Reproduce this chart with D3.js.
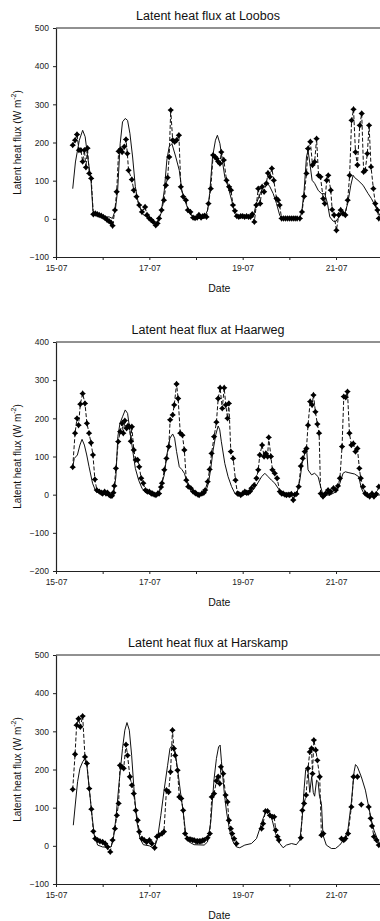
<!DOCTYPE html>
<html>
<head>
<meta charset="utf-8">
<script src="https://cdn.jsdelivr.net/npm/d3@7"></script>
<style>
  html, body { margin: 0; padding: 0; background: #fff; }
  svg { display: block; font-family: "Liberation Sans", Arial, sans-serif; }
</style>
</head>
<body>
<svg id="chart" width="380" height="921"></svg>
<script>
// Hours since 15-07 00:00 paired with latent heat flux (W m-2).
// null marks a gap in the record.

const loobosMeasured = [
  [8.6,193],[9.8,206],[10.8,221],[11.8,180],[12.8,180],[13.7,150],[14.6,180],[15.4,135],[16.2,185],[17.1,119],
  [18.1,106],[19.2,12],[20.2,14],[21.2,12],[22.2,10],[23.3,8],[24.3,5],[25.3,2],[26.3,-3],[27.3,-6],
  [28.3,-10],[29.1,-18],[30.3,23],[31.2,71],[32.2,177],[33.2,182],[34,175],[35.1,189],[36,208],[36.7,171],
  [37.3,127],[39,103],[40,75],[41.4,58],[42.8,36],[44.2,18],[45.8,31],[46.8,10],[48,1],[49,-3],
  [50,-8],[51.3,-17],[52.2,-12],[53,1],[54.3,23],[55.5,49],[56.5,88],[57.4,108],[58.2,162],[59,285],
  [60,206],[61,202],[62,206],[63.2,219],[64.2,84],[65.4,58],[66.8,49],[67.8,23],[69.1,18],[70.5,3],
  [71.5,2],[72.6,3],[73.5,10],[74.6,3],[75.5,7],[76.4,8],[77.4,5],[78.4,40],[79.6,79],[80.8,167],
  [81.8,162],[82.6,158],[83.4,150],[84.3,145],[85,175],[86.3,154],[87.7,101],[89,84],[90,75],[91,36],
  [92,21],[93,7],[94,5],[95,7],[96,7],[97,5],[98,7],[99,5],[100,5],[100.9,12],
  [102,-8],[103,36],[104,79],[105,40],[106,84],[107,71],[108.2,93],[109,120],[110,110],[111,132],
  [112,101],[113.4,53],[114.2,49],[115,36],[116,1],[117,1],[118,1],[119,1],[120,1],[121,1],
  [122,1],[123,1],[124,1],[125.4,1],[126.5,18],[127.6,59],[128.8,119],[129.6,184],[130.8,202],[131.9,141],
  [133,149],[134,210],[135,114],[136,110],[137.4,53],[138.2,40],[139.2,101],[140,114],[141.3,75],[142,24],
  [143,10],[144.2,-30],[145.4,10],[146.4,23],[147.6,14],[148.8,10],[150,49],[151,114],[152,258],[153,287],
  [154,175],[155,141],[156.2,245],[157.2,276],[158.2,123],[159,127],[160.1,171],[161,245],[162,136],[163.2,79],
  [164.2,40],[165.3,23],[166,1]
];

const loobosModel = [
  [8.6,79],[10,149],[12,206],[13.7,232],[15,215],[16.3,162],[18,101],[19,21],[20,14],[22,8],
  [24,5],[27.4,5],[29,1],[30.5,23],[31.7,75],[33,197],[34.2,254],[35.6,263],[36.8,258],[38,224],
  [39.4,162],[40.8,84],[42.5,36],[45,10],[48,1],[51,-12],[52.5,-5],[54,14],[55.7,75],[57,154],
  [58.2,189],[59.6,197],[61.6,162],[63.4,127],[64.7,75],[66.8,40],[69.3,10],[72.8,1],[76,1],[78,23],
  [79,66],[80.5,162],[82,206],[83,219],[84.3,197],[85.5,154],[86.8,110],[88.5,84],[90.3,49],[92,14],
  [93.7,3],[99,3],[101.4,5],[103,40],[105,66],[106.5,84],[108.2,97],[110,84],[111.7,66],[113.4,40],
  [115,10],[116,1],[125.5,1],[126.5,23],[127.6,75],[128.8,162],[129.6,180],[130.8,136],[131.7,101],[133,93],
  [134.8,75],[136.5,66],[138.2,66],[139.6,40],[140.8,5],[142.5,-6],[143.7,-8],[145,1],[146.8,14],[148.5,14],
  [150,40],[151.6,88],[152.8,114],[153.6,108],[155.3,101],[157.9,88],[160.5,66],[162.2,53],[163.9,36],[165.6,18],
  [167,5]
];

const haarwegMeasured = [
  [8.6,72],[9.8,161],[10.8,200],[11.6,182],[12.5,237],[13.7,265],[14.9,239],[15.9,187],[17,161],[18,136],
  [19,104],[20,40],[21,12],[22.3,8],[23.3,5],[24,3],[25,8],[25.7,3],[26.5,5],[27.4,-1],
  [28.2,-3],[28.8,-3],[29.5,5],[30,23],[30.8,69],[32,139],[33,165],[34,187],[34.6,161],[35.4,194],
  [36.3,174],[37,180],[37.7,178],[38.5,140],[39,178],[40,117],[41,91],[42,91],[42.8,73],[43.8,43],
  [44.9,30],[46,12],[47,8],[48,8],[49,3],[49.7,3],[50.5,0],[51.4,-1],[52.3,3],[53,3],
  [54,20],[54.5,30],[55.7,65],[56.8,95],[58,126],[58.7,196],[60,209],[60.8,235],[62,290],[62.8,252],
  [63.9,161],[65,156],[66,117],[67,38],[68,21],[69.3,17],[70.5,8],[71.5,5],[72,3],[73,0],
  [73.6,-1],[75,3],[76,5],[76.7,12],[78,34],[79,66],[80,108],[81.3,152],[82.5,190],[83.4,252],
  [84.4,280],[85.5,226],[86.5,280],[87.3,235],[88.2,200],[88.9,239],[89.9,113],[91.1,95],[92.3,38],[93.3,3],
  [94,2],[95,-1],[96,3],[97.1,8],[98,5],[98.8,5],[99.7,8],[100.5,17],[101.9,25],[103.1,43],
  [104,65],[104.8,104],[106,130],[107,100],[107.9,108],[108.8,100],[109.4,150],[110.5,100],[111.3,65],[112.5,56],
  [113.7,43],[115.1,8],[116,3],[116.8,3],[117.7,0],[118.5,-1],[119.4,0],[120.2,-1],[121,2],[122,-14],
  [122.8,0],[123.7,2],[124.8,21],[125.9,75],[126.9,95],[127.9,113],[128.8,121],[129.6,182],[130.7,244],[131.7,235],
  [132.4,261],[133.4,217],[134.4,185],[135.3,161],[136.1,3],[137.3,-5],[138,0],[138.7,3],[139.9,12],[140.6,5],
  [141.3,8],[142.7,17],[143.9,12],[145,23],[146,43],[147.1,126],[148,257],[149,255],[149.9,270],[150.9,161],
  [151.9,130],[152.9,134],[154,113],[155,121],[156,69],[156.7,43],[157.9,21],[159.1,3],[160.1,-1],[161.3,-5],
  [162.5,3],[163.5,-5],[164.7,2],[166,21]
];

const haarwegModel = [
  [8.6,72],[9.4,95],[11,104],[12.3,130],[13.4,145],[14.6,130],[15.8,104],[17,73],[18.8,30],[20.5,8],
  [23,3],[27.4,-1],[29.5,-1],[30.8,47],[31.8,152],[32.9,187],[34.2,204],[35.6,222],[36.8,213],[38,169],
  [39.4,117],[40.8,69],[42.5,38],[44.2,17],[46.2,5],[49.7,-1],[52,-1],[54,21],[55.7,52],[57,104],
  [58.6,148],[60,159],[61,148],[62,113],[63.4,73],[64.7,66],[66,56],[67.1,38],[68.5,25],[70.5,12],
  [72.8,3],[75.3,-1],[77,8],[78.4,30],[79.6,69],[80.8,117],[82.2,158],[83.4,180],[84.2,170],[85,140],
  [86.8,82],[88.5,47],[90.3,21],[92,3],[94.5,-1],[98.8,1],[101.4,12],[103.1,25],[105.7,47],[107.4,56],
  [109.1,47],[110.8,38],[112.5,30],[114.2,17],[116,3],[119.4,-1],[123.7,-1],[125.4,38],[126.6,82],[127.9,108],
  [128.8,126],[129.6,65],[131.4,52],[133,56],[134.8,47],[136.1,21],[137.3,-1],[140.8,-1],[144.2,8],[146,30],
  [147.6,56],[148.8,60],[150.2,58],[153.6,54],[155.7,47],[157,17],[158.7,-1],[162.2,-5],[166,-1],[167.5,0]
];

const harskampMeasured = [
  [8.6,148],[9.8,240],[10.6,316],[11.6,333],[12.5,312],[13.7,340],[14.9,233],[15.9,216],[17.1,150],[18.2,96],
  [19.2,38],[20.2,19],[21.4,15],[22.6,12],[24,10],[25.3,6],[26.5,-3],[27.9,-16],[29.1,15],[30.3,45],
  [31.3,80],[32.2,111],[32.9,211],[33.9,207],[34.8,203],[36,265],[36.8,237],[38,181],[39,159],[40,137],
  [41,93],[42,67],[42.8,37],[44.2,19],[45.4,15],[46.6,10],[48,15],[49.3,6],[50.7,-5],[51.9,24],
  [53,28],[54.5,32],[55.5,37],[56.8,146],[57.9,141],[58.9,194],[59.9,303],[60.6,255],[61.3,237],[62.5,198],
  [63.4,128],[64.4,124],[65.4,93],[66.4,32],[67.6,19],[68.5,17],[69.3,17],[70.2,15],[71,15],[72,12],
  [72.8,12],[73.7,12],[74.5,12],[75.4,14],[76.2,15],[77.9,21],[79.1,32],[80.1,128],[81.3,137],[82.5,170],
  [83.4,181],[84.2,163],[84.8,207],[86,189],[87.2,133],[88.2,115],[88.9,67],[89.9,45],[90.6,32],[91.6,19],
  [92.8,6],null,
  [105.7,45],[106.5,58],[107.7,91],[108.8,91],[110,80],[111.2,76],[112.2,76],[113,41],[113.9,24],[114.6,15],
  null,
  [125.9,21],[126.7,93],[127.6,111],[128.6,133],[129.6,203],[130.5,246],[131.4,255],[131.9,189],[132.6,277],[133.6,251],
  [134.4,224],[135.6,181],[136.5,28],[137.5,32],null,
  [146.8,19],[148,15],[148.8,19],[150.2,32],[151.9,102],[153,181],[155,181],null,
  [157,108],null,
  [160.8,102],[161.8,72],[162.5,52],[163.5,24],[164.8,15],[166,2]
];

const harskampModel = [
  [8.9,54],[9.9,107],[11.1,168],[12.3,203],[13.7,220],[14.7,228],[15.9,210],[17.1,150],[18.5,80],[19.7,28],
  [21.4,2],[24,-3],[28.3,-3],[29.5,19],[30.8,72],[32.5,168],[34.2,255],[35.4,303],[36.5,323],[37.7,303],
  [38.9,237],[40.2,141],[41.6,63],[43.2,19],[44.9,3],[48,0],[50.5,-7],[52.2,19],[53.9,80],[55.7,150],
  [57.4,211],[58.6,255],[59.9,265],[61.3,246],[62.7,194],[64,141],[65.4,89],[66.8,28],[68.5,10],[71,3],
  [76.2,2],[77.9,10],[79.6,63],[81.3,176],[82.5,229],[83.6,259],[84.4,264],[85.1,220],[86.5,141],[87.7,89],
  [89.4,37],[91.1,10],[92.8,-3],[94.5,-5],[97.1,2],[100.5,6],[103.1,19],[104.8,45],[106.5,72],[108.2,93],
  [109.4,89],[111.2,67],[112.9,32],[115.1,6],[116.8,-5],[118.5,2],[121.1,6],[123.6,3],[125.4,15],[126.6,72],
  [127.6,150],[128.4,200],[129.6,196],[130.5,140],[131.5,182],[132.3,140],[133,130],[134,172],[134.8,168],[135.5,130],
  [136.5,111],[137.3,28],[139,2],[141.6,-7],[143.7,-7],[145.9,2],[148.5,19],[150.2,45],[151.9,115],[153.3,194],
  [154,213],[155,207],[157,181],[159.1,146],[160.8,102],[162.2,67],[163.5,41],[164.8,24],[166.4,6],[167.5,0]
];

const loobosTicks = [-100, 0, 100, 200, 300, 400, 500];
const haarwegTicks = [-200, -100, 0, 100, 200, 300, 400];
const harskampTicks = [-100, 0, 100, 200, 300, 400, 500];

const titles = ["Latent heat flux at Loobos", "Latent heat flux at Haarweg", "Latent heat flux at Harskamp"];
const xTitle = "Date";

// ---- drawing ----
const START = Date.UTC(2004, 6, 15);
const toDate = h => new Date(START + h * 3600e3);

const svg = d3.select("#chart");
const left = 56, right = 382.7;
const x = d3.scaleUtc().domain([toDate(0), toDate(168)]).range([left, right]);
const fmt = d3.utcFormat("%d-%m");

const panels = [
  { top: 28,  bottom: 257, ticks: loobosTicks,   meas: loobosMeasured,   model: loobosModel,   title: titles[0] },
  { top: 342, bottom: 571, ticks: haarwegTicks,  meas: haarwegMeasured,  model: haarwegModel,  title: titles[1] },
  { top: 655, bottom: 884, ticks: harskampTicks, meas: harskampMeasured, model: harskampModel, title: titles[2] }
];

// four-pointed star marker with a fat body
const star = {
  draw(ctx, size) {
    const r = Math.sqrt(size) * 0.75, ri = r * 0.62;
    for (let i = 0; i < 8; i++) {
      const a = i * Math.PI / 4 - Math.PI / 2;
      const rr = i % 2 === 0 ? r : ri;
      const px = rr * Math.cos(a), py = rr * Math.sin(a);
      if (i === 0) ctx.moveTo(px, py); else ctx.lineTo(px, py);
    }
    ctx.closePath();
  }
};

panels.forEach(p => {
  const y = d3.scaleLinear().domain([p.ticks[0], p.ticks[p.ticks.length - 1]]).range([p.bottom, p.top]);
  const g = svg.append("g");

  // title
  g.append("text")
    .attr("x", 208).attr("y", p.top - 8)
    .attr("text-anchor", "middle")
    .attr("font-size", 12.5).attr("fill", "#111")
    .text(p.title);

  // frame top line
  g.append("line")
    .attr("x1", left).attr("x2", right)
    .attr("y1", p.top).attr("y2", p.top)
    .attr("stroke", "#222").attr("stroke-width", 1);

  // y axis
  const ya = g.append("g").attr("transform", `translate(${left},0)`)
    .call(d3.axisLeft(y).tickValues(p.ticks).tickSize(3).tickSizeOuter(0).tickPadding(4));
  ya.select(".domain").attr("stroke", "#222").attr("stroke-width", 1.2);
  ya.selectAll(".tick line").attr("stroke", "#222");
  ya.selectAll("text").attr("font-size", 8.5).attr("fill", "#222")
    .attr("font-family", "Liberation Sans, Arial, sans-serif");

  // x axis
  const xa = g.append("g").attr("transform", `translate(0,${p.bottom})`)
    .call(d3.axisBottom(x).ticks(d3.utcDay.every(1))
      .tickFormat(d => (d.getUTCDate() % 2 === 1 ? fmt(d) : ""))
      .tickSize(3).tickSizeOuter(0).tickPadding(5));
  xa.select(".domain").attr("stroke", "#222").attr("stroke-width", 1.2);
  xa.selectAll(".tick line").attr("stroke", "#222");
  xa.selectAll("text").attr("font-size", 8.5).attr("fill", "#222")
    .attr("font-family", "Liberation Sans, Arial, sans-serif");

  // axis titles
  g.append("text")
    .attr("x", (left + right) / 2).attr("y", p.bottom + 35)
    .attr("text-anchor", "middle").attr("font-size", 10.5).attr("fill", "#111")
    .text(xTitle);

  const yl = g.append("text")
    .attr("transform", `translate(17,${(p.top + p.bottom) / 2}) rotate(-90)`)
    .attr("text-anchor", "middle").attr("dominant-baseline", "central")
    .attr("font-size", 10).attr("fill", "#111");
  yl.append("tspan").text("Latent heat flux (W m");
  yl.append("tspan").attr("font-size", 7).attr("baseline-shift", "super").text("-2");
  yl.append("tspan").text(")");

  const line = d3.line()
    .defined(d => d != null)
    .x(d => x(toDate(d[0])))
    .y(d => y(d[1]));

  // model (solid)
  g.append("path").datum(p.model)
    .attr("d", line).attr("fill", "none")
    .attr("stroke", "#111").attr("stroke-width", 1);

  // measured (dashed with markers)
  g.append("path").datum(p.meas)
    .attr("d", line).attr("fill", "none")
    .attr("stroke", "#111").attr("stroke-width", 1)
    .attr("stroke-dasharray", "4,2");

  g.append("g").selectAll("path")
    .data(p.meas.filter(d => d != null))
    .join("path")
    .attr("transform", d => `translate(${x(toDate(d[0]))},${y(d[1])})`)
    .attr("d", d3.symbol().type(star).size(18))
    .attr("fill", "#000");
});
</script>
</body>
</html>
